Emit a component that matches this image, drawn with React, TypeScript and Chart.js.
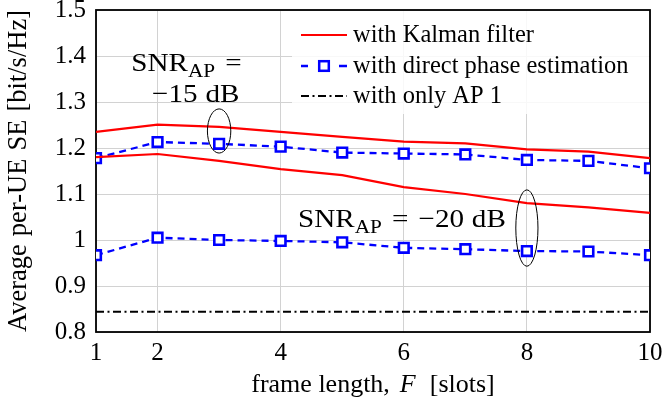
import React, { useEffect, useRef } from "react";
import { Chart, registerables } from "chart.js";

Chart.register(...registerables);

// ---------- data ----------
const frameLength = [1, 2, 3, 4, 5, 6, 7, 8, 9, 10];
const kalmanMinus15 = [1.235, 1.251, 1.246, 1.235, 1.224, 1.214, 1.21, 1.197, 1.192, 1.178];
const directMinus15 = [1.178, 1.213, 1.209, 1.203, 1.19, 1.188, 1.186, 1.174, 1.172, 1.156];
const kalmanMinus20 = [1.18, 1.187, 1.172, 1.154, 1.141, 1.115, 1.1, 1.08, 1.071, 1.059];
const directMinus20 = [0.967, 1.005, 1.0, 0.998, 0.995, 0.983, 0.98, 0.976, 0.975, 0.967];
const onlyAP1 = [0.844, 0.844, 0.844, 0.844, 0.844, 0.844, 0.844, 0.844, 0.844, 0.844];

const xTickValues = [1, 2, 4, 6, 8, 10];
const yMin = 0.8;
const yMax = 1.5;
const yStep = 0.1;

const legendLabels = ["with Kalman filter", "with direct phase estimation", "with only AP 1"];
const xTitleParts = ["frame length,", "F", "[slots]"];
const yTitleWords = ["Average", "per-UE", "SE", "[bit/s/Hz]"];

// annotation anchors in data coordinates
const note15Line1 = { x: 2.47, y: 1.368 };
const note15Line2 = { x: 2.62, y: 1.299 };
const note20 = { x: 5.97, y: 1.029 };
const ellipse15 = { x: 3, y: 1.237, rx: 0.19, ry: 0.048 };
const ellipse20 = { x: 8, y: 1.026, rx: 0.18, ry: 0.083 };

const SERIF = '"Liberation Serif", "Times New Roman", serif';
const RED = "#ff0000";
const BLUE = "#0000ff";

const toXY = (ys: number[]) => ys.map((y, i) => ({ x: frameLength[i], y }));

type Part = { t?: string; size?: number; dy?: number; gap?: number; italic?: boolean };

function drawParts(
  ctx: CanvasRenderingContext2D,
  parts: Part[],
  cx: number,
  baseline: number,
  hscale = 1
) {
  let total = 0;
  const widths = parts.map((p) => {
    if (p.gap !== undefined) return p.gap;
    ctx.font = `${p.italic ? "italic " : ""}${p.size}px ${SERIF}`;
    return ctx.measureText(p.t as string).width;
  });
  widths.forEach((w) => (total += w));
  ctx.save();
  ctx.translate(cx, baseline);
  ctx.scale(hscale, 1);
  let x = -total / 2;
  ctx.textAlign = "left";
  ctx.textBaseline = "alphabetic";
  parts.forEach((p, i) => {
    if (p.gap === undefined) {
      ctx.font = `${p.italic ? "italic " : ""}${p.size}px ${SERIF}`;
      ctx.fillText(p.t as string, x, p.dy || 0);
    }
    x += widths[i];
  });
  ctx.restore();
}

const overlayPlugin = {
  id: "overlay",
  beforeDatasetsDraw(chart: any) {
    const { ctx, chartArea: a } = chart;
    ctx.save();
    ctx.strokeStyle = "#000";
    ctx.lineWidth = 1.8;
    ctx.strokeRect(a.left, a.top, a.right - a.left, a.bottom - a.top);
    ctx.restore();
  },
  afterDatasetsDraw(chart: any) {
    const { ctx, chartArea: a, scales } = chart;
    const xs = scales.x;
    const ys = scales.y;
    ctx.save();
    ctx.fillStyle = "#000";

    // ellipses
    ctx.strokeStyle = "#000";
    ctx.lineWidth = 1;
    [ellipse15, ellipse20].forEach((e) => {
      const cx = xs.getPixelForValue(e.x);
      const cy = ys.getPixelForValue(e.y);
      const rx = xs.getPixelForValue(e.x + e.rx) - cx;
      const ry = cy - ys.getPixelForValue(e.y + e.ry);
      ctx.beginPath();
      ctx.ellipse(cx, cy, rx, ry, 0, 0, Math.PI * 2);
      ctx.stroke();
    });

    // annotations
    const HS = 1.12;
    drawParts(
      ctx,
      [{ t: "SNR", size: 26 }, { t: "AP", size: 19, dy: 6 }, { gap: 9 }, { t: "=", size: 26 }],
      xs.getPixelForValue(note15Line1.x),
      ys.getPixelForValue(note15Line1.y),
      HS
    );
    drawParts(
      ctx,
      [{ t: "\u221215", size: 26 }, { gap: 7 }, { t: "dB", size: 26 }],
      xs.getPixelForValue(note15Line2.x),
      ys.getPixelForValue(note15Line2.y),
      HS
    );
    drawParts(
      ctx,
      [
        { t: "SNR", size: 26 },
        { t: "AP", size: 19, dy: 6 },
        { gap: 9 },
        { t: "=", size: 26 },
        { gap: 9 },
        { t: "\u221220", size: 26 },
        { gap: 7 },
        { t: "dB", size: 26 },
      ],
      xs.getPixelForValue(note20.x),
      ys.getPixelForValue(note20.y),
      HS
    );

    // legend
    const lx0 = 292;
    const ly0 = a.top + 1;
    ctx.fillStyle = "rgba(255,255,255,0.85)";
    ctx.fillRect(lx0, ly0, a.right - lx0 - 1, 103);
    const rowY = [35, 66, 96];
    const symL = 301;
    const symR = 347;
    ctx.textBaseline = "alphabetic";
    ctx.textAlign = "left";
    // row 1: red line
    ctx.strokeStyle = RED;
    ctx.lineWidth = 2.2;
    ctx.setLineDash([]);
    ctx.beginPath();
    ctx.moveTo(symL, rowY[0]);
    ctx.lineTo(symR, rowY[0]);
    ctx.stroke();
    // row 2: blue dashed with square
    ctx.strokeStyle = BLUE;
    ctx.lineWidth = 2.3;
    ctx.beginPath();
    ctx.moveTo(symL, rowY[1]);
    ctx.lineTo(symL + 7, rowY[1]);
    ctx.moveTo(symR - 8, rowY[1]);
    ctx.lineTo(symR, rowY[1]);
    ctx.stroke();
    ctx.lineWidth = 2.5;
    ctx.fillStyle = "#fff";
    const sc = (symL + symR) / 2;
    ctx.fillRect(sc - 4.8, rowY[1] - 4.8, 9.6, 9.6);
    ctx.strokeRect(sc - 4.8, rowY[1] - 4.8, 9.6, 9.6);
    // row 3: dash-dot black
    ctx.strokeStyle = "#000";
    ctx.lineWidth = 2;
    ctx.setLineDash([8, 3.5, 2, 3.5]);
    ctx.beginPath();
    ctx.moveTo(symL, rowY[2]);
    ctx.lineTo(symR, rowY[2]);
    ctx.stroke();
    ctx.setLineDash([]);
    ctx.fillStyle = "#000";
    ctx.font = `24.5px ${SERIF}`;
    legendLabels.forEach((lab, i) => ctx.fillText(lab, 353, rowY[i] + 7));

    // x title
    const xParts: Part[] = [
      { t: xTitleParts[0], size: 26 },
      { gap: 10 },
      { t: xTitleParts[1], size: 26, italic: true },
      { gap: 14 },
      { t: xTitleParts[2], size: 26 },
    ];
    drawParts(ctx, xParts, (a.left + a.right) / 2, 392);

    // y title
    ctx.save();
    ctx.translate(26, (a.top + a.bottom) / 2);
    ctx.rotate(-Math.PI / 2);
    ctx.font = `26.5px ${SERIF}`;
    ctx.textBaseline = "alphabetic";
    const ws = yTitleWords.map((w) => ctx.measureText(w).width);
    const sum = ws.reduce((s, w) => s + w, 0);
    const gap = Math.max(6, (322 - sum) / (yTitleWords.length - 1));
    let px = -(sum + gap * (yTitleWords.length - 1)) / 2;
    ctx.textAlign = "left";
    yTitleWords.forEach((w, i) => {
      ctx.fillText(w, px, 0);
      px += ws[i] + gap;
    });
    ctx.restore();

    ctx.restore();
  },
};

export default function App() {
  const canvasRef = useRef<HTMLCanvasElement | null>(null);

  useEffect(() => {
    const canvas = canvasRef.current;
    if (!canvas) return;
    const directStyle = {
      borderColor: BLUE,
      borderWidth: 2.3,
      borderDash: [7, 5],
      pointStyle: "rect",
      pointRadius: 6.8,
      pointBorderWidth: 2.6,
      pointBorderColor: BLUE,
      pointBackgroundColor: "#fff",
      tension: 0,
      fill: false,
    };
    const chart = new Chart(canvas, {
      type: "line",
      data: {
        datasets: [
          {
            label: legendLabels[0],
            data: toXY(kalmanMinus15),
            borderColor: RED,
            borderWidth: 2.2,
            pointRadius: 0,
            tension: 0,
            fill: false,
          },
          {
            label: legendLabels[0],
            data: toXY(kalmanMinus20),
            borderColor: RED,
            borderWidth: 2.2,
            pointRadius: 0,
            tension: 0,
            fill: false,
          },
          { label: legendLabels[1], data: toXY(directMinus15), ...directStyle } as any,
          { label: legendLabels[1], data: toXY(directMinus20), ...directStyle } as any,
          {
            label: legendLabels[2],
            data: toXY(onlyAP1),
            borderColor: "#000",
            borderWidth: 2,
            borderDash: [8, 3.5, 2, 3.5],
            pointRadius: 0,
            tension: 0,
            fill: false,
          },
        ],
      },
      options: {
        responsive: false,
        devicePixelRatio: 1,
        animation: false,
        layout: { padding: { top: 10, right: 12, left: 0, bottom: 0 } },
        plugins: {
          legend: { display: false },
          tooltip: { enabled: false },
        },
        scales: {
          x: {
            type: "linear",
            min: frameLength[0],
            max: frameLength[frameLength.length - 1],
            afterBuildTicks: (s: any) => {
              s.ticks = xTickValues.map((v) => ({ value: v }));
            },
            afterFit: (s: any) => {
              s.height = 79;
              s.paddingLeft = 0;
              s.paddingRight = 0;
            },
            grid: { color: "#d2d2d2", lineWidth: 1, drawTicks: false },
            border: { display: false },
            ticks: {
              padding: 6,
              color: "#000",
              font: { family: SERIF, size: 25 },
              maxRotation: 0,
              callback: (v: any) => String(v),
            },
          },
          y: {
            type: "linear",
            min: yMin,
            max: yMax,
            afterFit: (s: any) => {
              s.width = 96;
              s.paddingTop = 0;
              s.paddingBottom = 0;
            },
            grid: { color: "#d2d2d2", lineWidth: 1, drawTicks: false },
            border: { display: false },
            ticks: {
              stepSize: yStep,
              padding: 10,
              color: "#000",
              font: { family: SERIF, size: 25 },
              callback: (v: any) => {
                const r = Math.round(Number(v) * 10) / 10;
                return Math.abs(r - 1) < 1e-9 ? "1" : r.toFixed(1);
              },
            },
          },
        },
      },
      plugins: [overlayPlugin],
    });
    return () => chart.destroy();
  }, []);

  return (
    <div style={{ position: "absolute", left: 0, top: 0, width: 662, height: 411, background: "#fff" }}>
      <canvas ref={canvasRef} width={662} height={411} style={{ display: "block" }} />
    </div>
  );
}
